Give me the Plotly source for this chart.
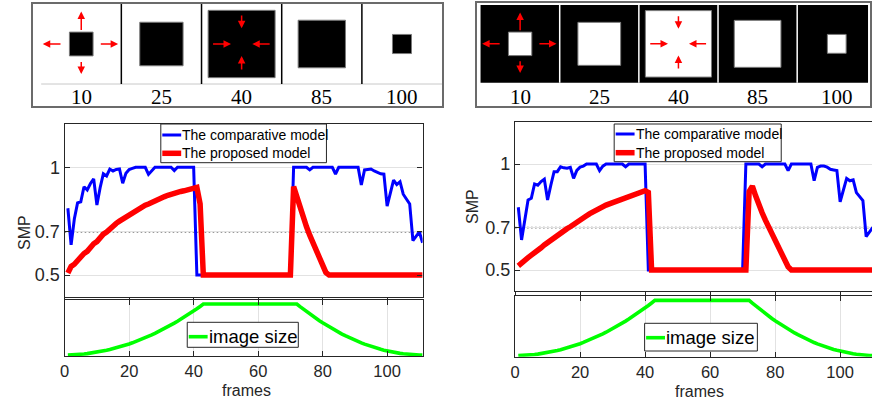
import plotly.graph_objects as go

# ---------------- data (frame index 1..111) ----------------
frames = list(range(1, 112))

comparative_left = (
    [0.81, 0.64, 0.76, 0.835, 0.84, 0.91, 0.895, 0.925, 0.946, 0.825,
     0.905, 0.97, 0.96, 0.992, 0.983, 0.99, 0.992, 0.926, 0.972, 0.99,
     0.995, 1.0, 1.0, 1.0, 1.0, 0.967, 0.985, 1.0, 1.0, 1.0,
     1.0, 1.0, 1.0, 0.985, 1.0, 1.0, 1.0, 1.0, 1.0, 1.0]
    + [0.5] * 30
    + [1.0, 1.0, 1.0, 1.0, 1.0, 0.988, 1.0, 1.0, 1.0, 1.0,
       1.0, 1.0, 1.0, 0.969, 1.0, 1.0, 1.0, 1.0, 1.0, 1.0,
       1.0, 0.918, 0.988, 0.99, 0.992, 0.983, 0.975, 0.97, 0.968, 0.82,
       0.88, 0.94, 0.92, 0.933, 0.875, 0.85, 0.83, 0.66, 0.68, 0.70, 0.65]
)

proposed_left = (
    [0.51, 0.54, 0.55, 0.57, 0.585, 0.60, 0.61, 0.63, 0.645, 0.655,
     0.675, 0.69, 0.70, 0.715, 0.73, 0.74, 0.75, 0.76, 0.771, 0.78,
     0.79, 0.80, 0.808, 0.817, 0.824, 0.83, 0.838, 0.845, 0.852, 0.858,
     0.864, 0.87, 0.876, 0.882, 0.885, 0.888, 0.891, 0.895, 0.898, 0.903,
     0.907, 0.83]
    + [0.5] * 28
    + [0.91, 0.86, 0.81, 0.765, 0.724, 0.685, 0.648, 0.612, 0.578, 0.545, 0.512]
    + [0.5] * 30
)

comparative_right = (
    [0.796, 0.642, 0.736, 0.83, 0.838, 0.906, 0.90, 0.917, 0.928, 0.83,
     0.90, 0.964, 0.964, 0.987, 0.982, 0.98, 0.984, 0.932, 0.97, 0.985,
     0.99, 1.0, 1.0, 1.0, 1.0, 0.969, 0.99, 1.0, 1.0, 1.0,
     1.0, 1.0, 1.0, 0.987, 1.0, 1.0, 1.0, 1.0, 1.0, 1.0]
    + [0.5] * 30
    + [1.0, 1.0, 1.0, 1.0, 1.0, 0.987, 1.0, 1.0, 1.0, 1.0,
       1.0, 1.0, 1.0, 0.969, 1.0, 1.0, 1.0, 1.0, 1.0, 1.0,
       1.0, 0.921, 0.984, 0.99, 0.99, 0.985, 0.975, 0.972, 0.969, 0.822,
       0.88, 0.932, 0.921, 0.925, 0.865, 0.846, 0.827, 0.657, 0.68, 0.70, 0.65]
)

proposed_right = (
    [0.52, 0.535, 0.545, 0.558, 0.57, 0.58, 0.593, 0.605, 0.618, 0.63,
     0.643, 0.655, 0.667, 0.677, 0.687, 0.695, 0.704, 0.713, 0.724, 0.735,
     0.745, 0.756, 0.766, 0.775, 0.783, 0.79, 0.798, 0.806, 0.812, 0.818,
     0.824, 0.831, 0.837, 0.843, 0.849, 0.856, 0.862, 0.868, 0.871, 0.874,
     0.866]
    + [0.5] * 30
    + [0.87, 0.895, 0.85, 0.80, 0.77, 0.735, 0.705, 0.675, 0.645, 0.612,
       0.58, 0.548, 0.515]
    + [0.5] * 27
)

image_size = (
    [0.001, 0.002, 0.005, 0.009, 0.014, 0.019, 0.027, 0.035, 0.044, 0.054,
     0.065, 0.078, 0.091, 0.106, 0.122, 0.138, 0.156, 0.175, 0.195, 0.216,
     0.239, 0.262, 0.286, 0.312, 0.338, 0.366, 0.394, 0.424, 0.455, 0.487,
     0.520, 0.554, 0.589, 0.625, 0.663, 0.701, 0.740, 0.781, 0.823, 0.865,
     0.909, 0.954, 1.0]
    + [1.0] * 29
    + [0.949, 0.900, 0.852, 0.805, 0.760, 0.716, 0.673, 0.632, 0.592, 0.553,
       0.515, 0.479, 0.444, 0.411, 0.379, 0.348, 0.318, 0.290, 0.263, 0.237,
       0.213, 0.190, 0.168, 0.148, 0.129, 0.111, 0.095, 0.080, 0.066, 0.053,
       0.042, 0.032, 0.024, 0.016, 0.011, 0.006, 0.003, 0.001, 0.0]
)

smp_threshold = 0.7
smp_ticks = [0.5, 0.7, 1]
frame_ticks = [0, 20, 40, 60, 80, 100]

# thumbnails of the moving square at selected frames
thumb_frames = [10, 25, 40, 85, 100]
thumb_side = [0.295, 0.54, 0.835, 0.59, 0.237]   # side / cell width
thumb_motion = ["grow", "", "shrink", "", ""]

series_names = ["The comparative model", "The proposed model"]
size_name = "image size"

# ---------------- styling / geometry ----------------
W, H = 872, 400
FONT = "Liberation Sans, Arial, sans-serif"
SERIF = "Liberation Serif, Times New Roman, serif"
AX = "#262626"
GRID = "#e2e2e2"
BLUE, RED, GREEN = "#0000ff", "#ff0000", "#00ff00"
BLUE_W, RED_W, GREEN_W = 3.0, 5.5, 3.6


def dom_x(a, b):
    return [a / W, b / W]


def dom_y(top, bottom):
    return [1 - bottom / H, 1 - top / H]


def px(p):
    return p / W


def py(p):
    return 1 - p / H


panels = [
    dict(comp=comparative_left, prop=proposed_left, inverted=False,
         ids=("", "2", "3"),
         strip_x=(28.3, 440.0), strip_y=(4.0, 106.0),
         strip_xr=(-0.1, 5.005), strip_yr=(-0.275, 1.0), label_py=97.0,
         plot_x=(60.0, 420.0), smp_y=(124.2, 296.6), size_y=(300.0, 356.0),
         xmax=111.0, right_edge=True,
         leg=(156.7, 124.0, 323.3, 162.7), leg_rows=(135.0, 153.3),
         size_leg=(183.3, 322.3, 295.0, 347.3), size_leg_row=336.7,
         ylabel=(19.5, 232.5), xlabel=(243.3, 390.0)),
    dict(comp=comparative_right, prop=proposed_right, inverted=True,
         ids=("4", "5", "6"),
         strip_x=(474.3, 870.0), strip_y=(3.3, 106.0),
         strip_xr=(-0.05, 4.92), strip_yr=(-0.30, 1.022), label_py=96.7,
         plot_x=(513.0, 872.0), smp_y=(121.6, 291.2), size_y=(296.0, 356.7),
         xmax=109.8, right_edge=False,
         leg=(612.7, 124.0, 780.7, 161.7), leg_rows=(134.0, 152.7),
         size_leg=(643.3, 323.3, 756.7, 351.0), size_leg_row=337.7,
         ylabel=(470.0, 206.7), xlabel=(698.3, 391.0)),
]

fig = go.Figure()
layout = dict(width=W, height=H, margin=dict(l=0, r=0, t=0, b=0),
              autosize=False, paper_bgcolor="white", plot_bgcolor="white",
              showlegend=False, font=dict(family=FONT, color=AX))
shapes, annos = [], []

for p in panels:
    s, m, z = p["ids"]
    # ---- thumbnail strip ----
    layout[f"xaxis{s}"] = dict(domain=dom_x(*p["strip_x"]), range=list(p["strip_xr"]),
                               anchor=f"y{s}", showline=True, mirror=True,
                               linecolor="#6b6b6b", linewidth=1.5, showgrid=False,
                               zeroline=False, showticklabels=False, ticks="",
                               fixedrange=True)
    layout[f"yaxis{s}"] = dict(domain=dom_y(*p["strip_y"]), range=list(p["strip_yr"]),
                               anchor=f"x{s}", showline=True, mirror=True,
                               linecolor="#6b6b6b", linewidth=1.5, showgrid=False,
                               zeroline=False, showticklabels=False, ticks="",
                               fixedrange=True)
    xr, yr = p["strip_xr"], p["strip_yr"]
    cell_w = (p["strip_x"][1] - p["strip_x"][0]) / (xr[1] - xr[0])
    cell_h = (p["strip_y"][1] - p["strip_y"][0]) / (yr[1] - yr[0])
    aspect = cell_w / cell_h
    sx, sy = f"x{s}", f"y{s}"
    n = len(thumb_frames)
    fg = "white" if p["inverted"] else "black"
    if p["inverted"]:
        shapes.append(dict(type="rect", xref=sx, yref=sy, x0=0, x1=xr[1] - 0.025,
                           y0=0, y1=1, fillcolor="black", line=dict(width=0),
                           layer="above"))
    else:
        shapes.append(dict(type="line", xref=sx, yref=sy, x0=0, x1=n, y0=0, y1=0,
                           line=dict(color="#c8c8c8", width=1), layer="above"))
    for k in range(1, n):
        shapes.append(dict(type="line", xref=sx, yref=sy, x0=k, x1=k, y0=0, y1=1,
                           line=dict(color="white" if p["inverted"] else "black",
                                     width=1.5), layer="above"))
    label_y = yr[1] - (p["label_py"] - p["strip_y"][0]) / cell_h
    for i, (fr, side, motion) in enumerate(zip(thumb_frames, thumb_side, thumb_motion)):
        cx, cy = i + 0.5, 0.5
        hx, hy = side / 2, side / 2 * aspect
        shapes.append(dict(type="rect", xref=sx, yref=sy, x0=cx - hx, x1=cx + hx,
                           y0=cy - hy, y1=cy + hy, fillcolor=fg,
                           line=dict(color="#7a7a7a", width=1), layer="above"))
        annos.append(dict(xref=sx, yref=sy, x=cx, y=label_y, text=str(fr),
                          showarrow=False, font=dict(family=SERIF, size=21, color="black"),
                          xanchor="center", yanchor="middle"))
        if motion == "grow":
            arrows = [((-0.24, 0), (-0.48, 0)), ((0.225, 0), (0.46, 0)),
                      ((0, 0.155), (0, 0.405)), ((0, -0.205), (0, -0.376))]
        elif motion == "shrink":
            arrows = [((0, 0.375), (0, 0.196)), ((0, -0.337), (0, -0.15)),
                      ((-0.375, 0), (-0.132, 0)), ((0.368, 0), (0.133, 0))]
        else:
            arrows = []
        for (tx, ty), (hx2, hy2) in arrows:
            annos.append(dict(xref=sx, yref=sy, axref=sx, ayref=sy,
                              x=cx + hx2, y=cy + hy2, ax=cx + tx, ay=cy + ty,
                              text="", showarrow=True, arrowhead=2, arrowsize=1,
                              arrowwidth=1.5, arrowcolor=RED, standoff=0))

    # ---- SMP panel ----
    layout[f"xaxis{m}"] = dict(domain=dom_x(*p["plot_x"]), range=[0, p["xmax"]],
                               anchor=f"y{m}", tickvals=frame_ticks, ticks="outside",
                               ticklen=3, tickcolor=AX, showticklabels=False,
                               showline=True, mirror=True, linecolor=AX, linewidth=1.3,
                               showgrid=False, zeroline=False, fixedrange=True)
    layout[f"yaxis{m}"] = dict(domain=dom_y(*p["smp_y"]), range=[0.4, 1.2],
                               anchor=f"x{m}", tickvals=smp_ticks,
                               ticktext=[f"{v:g}" for v in smp_ticks],
                               ticks="inside", ticklen=5, tickcolor=AX,
                               mirror="ticks" if p["right_edge"] else False,
                               showline=True, linecolor=AX, linewidth=1.3,
                               showgrid=True, gridcolor=GRID, gridwidth=1,
                               zeroline=False, fixedrange=True,
                               tickfont=dict(family=FONT, size=18, color=AX))
    shapes.append(dict(type="line", xref=f"x{m} domain", yref=f"y{m}", x0=0, x1=1,
                       y0=smp_threshold, y1=smp_threshold, layer="below",
                       line=dict(color="#7a7a7a", width=1.6, dash="1.6px,2.4px")))
    fig.add_trace(go.Scatter(x=frames, y=p["comp"], xaxis=f"x{m}", yaxis=f"y{m}",
                             mode="lines", name=series_names[0],
                             line=dict(color=BLUE, width=BLUE_W)))
    fig.add_trace(go.Scatter(x=frames, y=p["prop"], xaxis=f"x{m}", yaxis=f"y{m}",
                             mode="lines", name=series_names[1],
                             line=dict(color=RED, width=RED_W)))

    # legend box of the SMP panel
    l, t, r, b = p["leg"]
    shapes.append(dict(type="rect", xref="paper", yref="paper", x0=px(l), x1=px(r),
                       y0=py(b), y1=py(t), fillcolor="white",
                       line=dict(color=AX, width=1), layer="above"))
    for name, row, col, wd in zip(series_names, p["leg_rows"], (BLUE, RED),
                                  (BLUE_W, RED_W)):
        shapes.append(dict(type="line", xref="paper", yref="paper", x0=px(l + 1.5),
                           x1=px(l + 20.5), y0=py(row), y1=py(row),
                           line=dict(color=col, width=wd), layer="above"))
        annos.append(dict(xref="paper", yref="paper", x=px(l + 20.5), y=py(row),
                          text=name, showarrow=False, xanchor="left", yanchor="middle",
                          borderpad=0, font=dict(family=FONT, size=14, color="black")))
    annos.append(dict(xref="paper", yref="paper", x=px(p["ylabel"][0]),
                      y=py(p["ylabel"][1]), text="SMP", textangle=-90, showarrow=False,
                      xanchor="center", yanchor="middle",
                      font=dict(family=FONT, size=16, color=AX)))

    # ---- image size panel ----
    layout[f"xaxis{z}"] = dict(domain=dom_x(*p["plot_x"]), range=[0, p["xmax"]],
                               anchor=f"y{z}", tickvals=frame_ticks, ticks="inside",
                               ticklen=5, tickcolor=AX, mirror="ticks", showline=True,
                               linecolor=AX, linewidth=1.3, showgrid=True,
                               gridcolor=GRID, gridwidth=1, zeroline=False,
                               fixedrange=True,
                               tickfont=dict(family=FONT, size=16.5, color=AX))
    layout[f"yaxis{z}"] = dict(domain=dom_y(*p["size_y"]), range=[-0.02, 1.08],
                               anchor=f"x{z}", showticklabels=False, ticks="",
                               showline=True, mirror=True if p["right_edge"] else False,
                               linecolor=AX, linewidth=1.3, showgrid=False,
                               zeroline=False, fixedrange=True)
    fig.add_trace(go.Scatter(x=frames, y=image_size, xaxis=f"x{z}", yaxis=f"y{z}",
                             mode="lines", name=size_name,
                             line=dict(color=GREEN, width=GREEN_W)))
    l, t, r, b = p["size_leg"]
    row = p["size_leg_row"]
    shapes.append(dict(type="rect", xref="paper", yref="paper", x0=px(l), x1=px(r),
                       y0=py(b), y1=py(t), fillcolor="white",
                       line=dict(color=AX, width=1), layer="above"))
    shapes.append(dict(type="line", xref="paper", yref="paper", x0=px(l + 1.5),
                       x1=px(l + 20.5), y0=py(row), y1=py(row),
                       line=dict(color=GREEN, width=GREEN_W), layer="above"))
    annos.append(dict(xref="paper", yref="paper", x=px(l + 20.5), y=py(row),
                      text=size_name, showarrow=False, xanchor="left", yanchor="middle",
                      borderpad=0, font=dict(family=FONT, size=18.5, color="black")))
    annos.append(dict(xref="paper", yref="paper", x=px(p["xlabel"][0]),
                      y=py(p["xlabel"][1]), text="frames", showarrow=False,
                      xanchor="center", yanchor="middle",
                      font=dict(family=FONT, size=16, color=AX)))

layout["shapes"] = shapes
layout["annotations"] = annos
fig.update_layout(**layout)
fig.write_html("out.html")
